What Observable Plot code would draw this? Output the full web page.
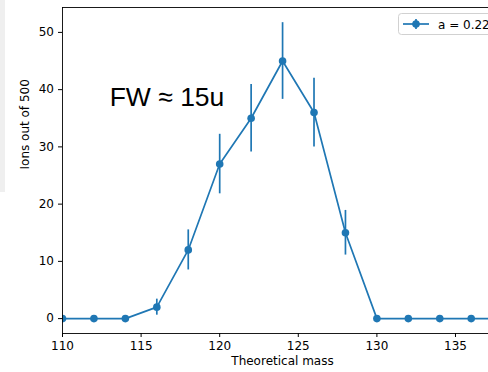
<!DOCTYPE html>
<html>
<head>
<meta charset="utf-8">
<script src="https://cdn.jsdelivr.net/npm/d3@7"></script>
<script src="https://cdn.jsdelivr.net/npm/@observablehq/plot@0.6"></script>
<style>
  html, body { margin: 0; padding: 0; background: #fff; }
  #wrap { position: relative; width: 488px; height: 372px; overflow: hidden; }
  #strip { position: absolute; left: 0; top: 0; width: 5px; height: 192px; background: #efefef; }
  #chart { position: absolute; left: 0; top: 0; }
</style>
</head>
<body>
<div id="wrap"><div id="chart"></div><div id="strip"></div></div>
<script>
const mass   = [110, 112, 114, 116, 118, 120, 122, 124, 126, 128, 130, 132, 134, 136, 138];
const ions   = [0, 0, 0, 2, 12, 27, 35, 45, 36, 15, 0, 0, 0, 0, 0];
const errors = [0, 0, 0, 1.4, 3.5, 5.2, 5.9, 6.7, 6.0, 3.9, 0, 0, 0, 0, 0];
const xTicks = [110, 115, 120, 125, 130, 135];
const yTicks = [0, 10, 20, 30, 40, 50];
const xLabel = "Theoretical mass";
const yLabel = "Ions out of 500";
const annotation = "FW ≈ 15u";
const legendLabel = "a = 0.22";

const data = mass.map((m, i) => ({m, n: ions[i], lo: ions[i] - errors[i], hi: ions[i] + errors[i]}));
const blue = "#1f77b4";
const xDom = [110, 137.1];
const yDom = [-2.6, 54.35];
const fs = 12;

const plot = Plot.plot({
  width: 488,
  height: 372,
  marginLeft: 62,
  marginRight: 0,
  marginTop: 7,
  marginBottom: 39,
  style: {fontFamily: "DejaVu Sans", fontSize: fs + "px", color: "#000", background: "transparent"},
  x: {domain: xDom, ticks: xTicks, tickSize: 4, tickPadding: 4, label: null, tickFormat: d => String(d)},
  y: {domain: yDom, ticks: yTicks, tickSize: 4, tickPadding: 4.5, label: null, tickFormat: d => String(d)},
  marks: [
    Plot.ruleX(data, {x: "m", y1: "lo", y2: "hi", stroke: blue, strokeWidth: 1.7, clip: true}),
    Plot.line(data, {x: "m", y: "n", stroke: blue, strokeWidth: 1.7, clip: true}),
    Plot.dot(data, {x: "m", y: "n", r: 3.8, fill: blue, stroke: "none", clip: true}),
    Plot.ruleX([xDom[0]], {stroke: "#000", strokeWidth: 0.9}),
    Plot.ruleY([yDom[0], yDom[1]], {stroke: "#000", strokeWidth: 0.9}),
    Plot.text([annotation], {x: 113, y: 37.2, text: d => d, textAnchor: "start", lineAnchor: "bottom",
      fontFamily: "Liberation Sans, Arial, sans-serif", fontSize: 26.5, fill: "#000"}),
    Plot.text([xLabel], {frameAnchor: "bottom", text: d => d, dx: 7, dy: 31, fontSize: fs, fill: "#000"}),
    Plot.text([yLabel], {frameAnchor: "left", text: d => d, rotate: -90, dx: -37, dy: -1, fontSize: fs, fill: "#000"})
  ]
});
document.getElementById("chart").appendChild(plot);

// legend
const svg = d3.select(plot);
const lg = svg.append("g").attr("text-anchor", "start");
lg.append("rect").attr("x", 398.5).attr("y", 13.5).attr("width", 120).attr("height", 21)
  .attr("rx", 3).attr("fill", "rgba(255,255,255,0.8)").attr("stroke", "#cccccc").attr("stroke-width", 0.9);
lg.append("line").attr("x1", 403).attr("x2", 429).attr("y1", 24).attr("y2", 24)
  .attr("stroke", blue).attr("stroke-width", 1.7);
lg.append("line").attr("x1", 416).attr("x2", 416).attr("y1", 19).attr("y2", 29)
  .attr("stroke", blue).attr("stroke-width", 1.7);
lg.append("circle").attr("cx", 416).attr("cy", 24).attr("r", 3.8).attr("fill", blue);
lg.append("text").attr("x", 438).attr("y", 28.5).attr("text-anchor", "start")
  .attr("font-family", "DejaVu Sans").attr("font-size", fs)
  .attr("fill", "#000").text(legendLabel);
</script>
</body>
</html>
